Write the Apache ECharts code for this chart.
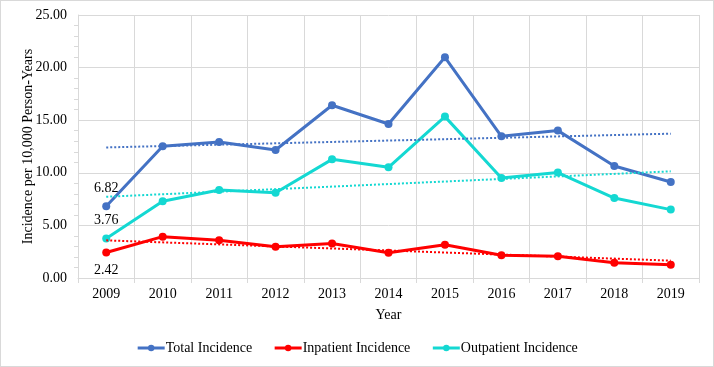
<!DOCTYPE html>
<html>
<head>
<meta charset="utf-8">
<script src="https://cdn.jsdelivr.net/npm/echarts@6/dist/echarts.min.js"></script>
<style>
  html, body { margin: 0; padding: 0; background: #fff; }
  #chart { width: 712px; height: 365px; border: 1px solid #d9d9d9; }
</style>
</head>
<body>
<div id="chart"></div>
<script>
// data
var years = ['2009', '2010', '2011', '2012', '2013', '2014', '2015', '2016', '2017', '2018', '2019'];
var totalIncidence = [6.82, 12.52, 12.93, 12.17, 16.42, 14.64, 20.98, 13.47, 14.01, 10.65, 9.13];
var inpatientIncidence = [2.42, 3.93, 3.58, 2.98, 3.27, 2.41, 3.17, 2.16, 2.06, 1.46, 1.27];
var outpatientIncidence = [3.76, 7.29, 8.37, 8.11, 11.28, 10.52, 15.34, 9.51, 10.02, 7.60, 6.50];
// linear trend lines: value at 2009 and at 2019
var totalTrend = [12.41, 13.72];
var inpatientTrend = [3.58, 1.65];
var outpatientTrend = [7.72, 10.14];
var yTicks = [0, 5, 10, 15, 20, 25];

var font = '"Liberation Serif", "Times New Roman", serif';
var fs = 14;
var chart = echarts.init(document.getElementById('chart'));

function trendLine(t, color) {
  return {
    silent: true,
    symbol: 'none',
    label: { show: false },
    lineStyle: { type: [2, 2], width: 2, color: color },
    data: [[{ coord: [years[0], t[0]] }, { coord: [years[years.length - 1], t[1]] }]]
  };
}

// only first point gets a label
function firstLabel(p) {
  return p.dataIndex === 0 ? p.value.toFixed(2) : '';
}

var option = {
  animation: false,
  textStyle: { fontFamily: font },
  grid: { left: 77, right: 14, top: 14, bottom: 88 },
  legend: {
    bottom: 6,
    itemWidth: 27,
    itemHeight: 8,
    itemGap: 21,
    lineStyle: { width: 3 },
    textStyle: { fontFamily: font, fontSize: fs, color: '#000', padding: [0, 0, 0, -4] },
    data: ['Total Incidence', 'Inpatient Incidence', 'Outpatient Incidence']
  },
  xAxis: {
    type: 'category',
    data: years,
    boundaryGap: true,
    name: 'Year',
    nameLocation: 'middle',
    nameGap: 30,
    nameTextStyle: { fontFamily: font, fontSize: fs, color: '#000' },
    axisLine: { lineStyle: { color: '#d9d9d9' } },
    axisTick: { show: true, length: 5, lineStyle: { color: '#d9d9d9' } },
    axisLabel: { fontFamily: font, fontSize: fs, color: '#000', margin: 9 },
    splitLine: { show: true, lineStyle: { color: '#d9d9d9' } }
  },
  yAxis: {
    type: 'value',
    min: yTicks[0],
    max: yTicks[yTicks.length - 1],
    interval: 5,
    name: 'Incidence per 10,000 Person-Years',
    nameLocation: 'middle',
    nameGap: 43,
    nameMoveOverlap: false,
    nameTextStyle: { fontFamily: font, fontSize: fs, color: '#000' },
    axisLine: { show: true, lineStyle: { color: '#d9d9d9' } },
    axisTick: { show: false },
    minorTick: { show: true, splitNumber: 5, length: 4, lineStyle: { color: '#d9d9d9' } },
    axisLabel: {
      fontFamily: font, fontSize: fs, color: '#000', margin: 11,
      formatter: function (v) { return v.toFixed(2); }
    },
    splitLine: { show: true, lineStyle: { color: '#d9d9d9' } }
  },
  series: [
    {
      name: 'Total Incidence',
      type: 'line',
      data: totalIncidence,
      color: '#4472C4',
      lineStyle: { width: 3 },
      symbol: 'circle',
      symbolSize: 8,
      z: 4,
      label: { show: true, position: 'top', distance: 7, fontFamily: font, fontSize: fs, color: '#000', formatter: firstLabel },
      markLine: trendLine(totalTrend, '#4472C4')
    },
    {
      name: 'Inpatient Incidence',
      type: 'line',
      data: inpatientIncidence,
      color: '#FF0000',
      lineStyle: { width: 3 },
      symbol: 'circle',
      symbolSize: 8,
      z: 2,
      label: { show: true, position: 'bottom', distance: 7, fontFamily: font, fontSize: fs, color: '#000', formatter: firstLabel },
      markLine: trendLine(inpatientTrend, '#FF0000')
    },
    {
      name: 'Outpatient Incidence',
      type: 'line',
      data: outpatientIncidence,
      color: '#14D8D2',
      lineStyle: { width: 3 },
      symbol: 'circle',
      symbolSize: 8,
      z: 3,
      label: { show: true, position: 'top', distance: 7, fontFamily: font, fontSize: fs, color: '#000', formatter: firstLabel },
      markLine: trendLine(outpatientTrend, '#14D8D2')
    }
  ]
};

chart.setOption(option);
</script>
</body>
</html>
